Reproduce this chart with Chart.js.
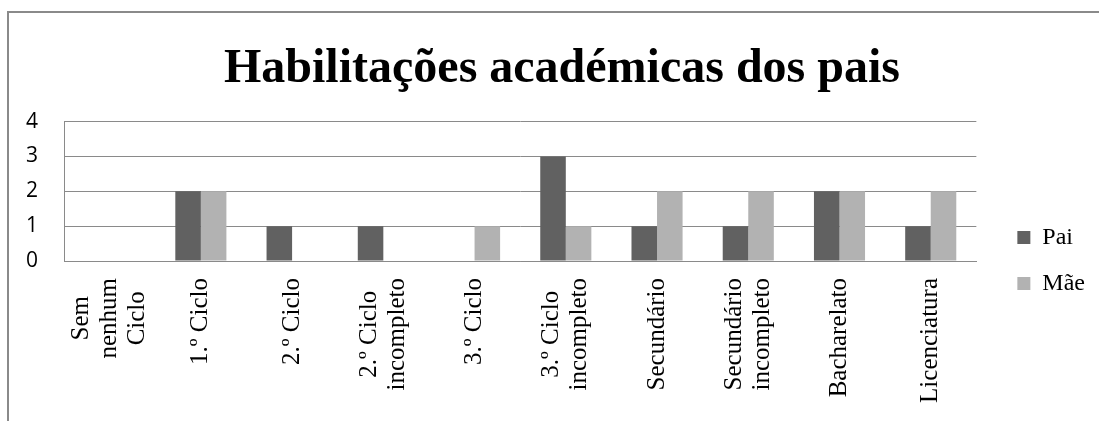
<!DOCTYPE html>
<html>
<head>
<meta charset="utf-8">
<script src="https://cdn.jsdelivr.net/npm/chart.js@4"></script>
<style>
  html, body { margin: 0; padding: 0; background: #fff; overflow: hidden; }
  #frame {
    position: absolute; left: 7px; top: 11px; width: 1200px; height: 500px;
    border-left: 2px solid #8a8a8a; border-top: 2px solid #8a8a8a;
  }
  #wrap { position: absolute; left: 0; top: 0; width: 1124px; height: 421px; }
</style>
</head>
<body>
<div id="frame"></div>
<div id="wrap"><canvas id="chart"></canvas></div>
<script>
// categorias (linhas do rótulo)
const categories = [
  ["Sem", "nenhum", "Ciclo"],
  ["1.º Ciclo"],
  ["2.º Ciclo"],
  ["2.º Ciclo", "incompleto"],
  ["3.º Ciclo"],
  ["3.º Ciclo", "incompleto"],
  ["Secundário"],
  ["Secundário", "incompleto"],
  ["Bacharelato"],
  ["Licenciatura"]
];
const paiValues = [0, 2, 1, 1, 0, 3, 1, 1, 2, 1];
const maeValues = [0, 2, 0, 0, 1, 1, 2, 2, 2, 2];
const yTicks = [0, 1, 2, 3, 4];

const serif = '"Liberation Serif", "Times New Roman", serif';

// rótulos do eixo x rodados, linhas centradas entre si
const xLabels = {
  id: 'xLabels',
  afterDraw(chart) {
    const xs = chart.scales.x;
    const ctx = chart.ctx;
    const lineH = 28;
    ctx.save();
    ctx.font = '25px ' + serif;
    ctx.fillStyle = '#000';
    ctx.textAlign = 'center';
    ctx.textBaseline = 'middle';
    chart.data.labels.forEach((lines, i) => {
      const x = xs.getPixelForTick(i);
      const maxW = Math.max(...lines.map(l => ctx.measureText(l).width));
      ctx.save();
      ctx.translate(x, xs.top + 17 + maxW / 2);
      ctx.rotate(-Math.PI / 2);
      lines.forEach((l, j) => ctx.fillText(l, 0, (j - (lines.length - 1) / 2) * lineH));
      ctx.restore();
    });
    ctx.restore();
  }
};

// afinar posição da legenda e do título
const nudge = {
  id: 'nudge',
  afterLayout(chart) {
    const lg = chart.legend;
    lg.left += 19; lg.right += 19;
    lg.top += 50; lg.bottom += 50;
    const t = chart.titleBlock;
    t.left += 24; t.right += 24;
  }
};

new Chart(document.getElementById('chart'), {
  type: 'bar',
  data: {
    labels: categories,
    datasets: [
      { label: 'Pai', data: paiValues, backgroundColor: '#616161', borderWidth: 0 },
      { label: 'Mãe', data: maeValues, backgroundColor: '#b2b2b2', borderWidth: 0 }
    ]
  },
  options: {
    responsive: true,
    maintainAspectRatio: false,
    animation: false,
    layout: { padding: { left: 0, right: 48, top: 0, bottom: 0 } },
    datasets: { bar: { categoryPercentage: 0.56, barPercentage: 1 } },
    scales: {
      x: {
        grid: { display: false },
        border: { display: true, color: '#8a8a8a' },
        ticks: { display: false },
        afterFit(scale) { scale.height = 160; }
      },
      y: {
        min: 0,
        max: 4,
        afterBuildTicks(scale) { scale.ticks = yTicks.map(v => ({ value: v })); },
        grid: { color: '#8a8a8a', drawTicks: false },
        border: { display: true, color: '#8a8a8a' },
        ticks: {
          padding: 26,
          color: '#000',
          font: { family: '"Open Sans", sans-serif', size: 21 }
        }
      }
    },
    plugins: {
      title: {
        display: true,
        text: 'Habilitações académicas dos pais',
        color: '#000',
        font: { family: serif, size: 48, weight: 'bold', lineHeight: 1.2 },
        padding: { top: 41, bottom: 23 }
      },
      legend: {
        position: 'right',
        labels: {
          color: '#000',
          boxWidth: 13,
          boxHeight: 13,
          padding: 22,
          font: { family: serif, size: 24 }
        }
      },
      tooltip: { enabled: false }
    }
  },
  plugins: [xLabels, nudge]
});
</script>
</body>
</html>
